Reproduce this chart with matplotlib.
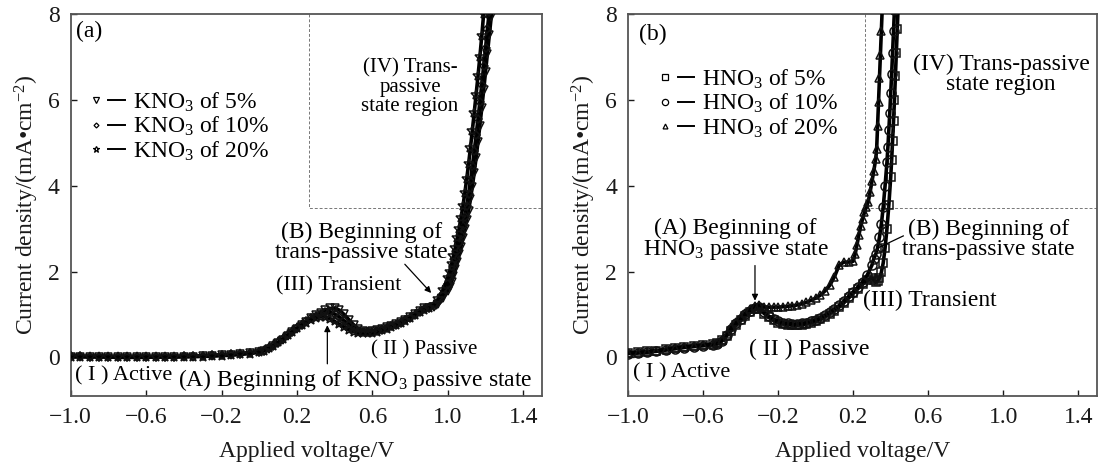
import matplotlib
matplotlib.use('Agg')
import matplotlib.pyplot as plt
from matplotlib.lines import Line2D
from matplotlib.legend_handler import HandlerTuple

plt.rcParams['font.family'] = 'Liberation Serif'
plt.rcParams['mathtext.fontset'] = 'custom'
plt.rcParams['mathtext.rm'] = 'Liberation Serif'
plt.rcParams['mathtext.it'] = 'Liberation Serif:italic'
plt.rcParams['font.size'] = 17

# ---- (a) KNO3 polarisation curves ----
va_base = [-1.00, -0.95, -0.90, -0.85, -0.80, -0.75, -0.70, -0.65, -0.60, -0.55,
           -0.50, -0.45, -0.40, -0.35, -0.30, -0.25, -0.20, -0.15, -0.10, -0.05,
           0.000, 0.025, 0.050, 0.075, 0.100, 0.125, 0.150, 0.175, 0.200, 0.225,
           0.250, 0.275, 0.300, 0.325, 0.350, 0.375, 0.400, 0.425, 0.450, 0.475,
           0.500, 0.525, 0.550, 0.575, 0.600, 0.625, 0.650, 0.675, 0.700, 0.725,
           0.750, 0.775, 0.800, 0.825, 0.850, 0.875, 0.900, 0.925, 0.950, 0.975]

ia_5_base = [0.02, 0.02, 0.02, 0.02, 0.01, 0.01, 0.01, 0.01, 0.01, 0.01,
             0.01, 0.02, 0.02, 0.02, 0.03, 0.04, 0.05, 0.06, 0.08, 0.10,
             0.13, 0.16, 0.20, 0.26, 0.33, 0.41, 0.50, 0.58, 0.67, 0.75,
             0.83, 0.91, 0.98, 1.04, 1.10, 1.14, 1.15, 1.10, 1.00, 0.88,
             0.76, 0.67, 0.62, 0.60, 0.61, 0.63, 0.66, 0.70, 0.74, 0.78,
             0.83, 0.88, 0.94, 1.01, 1.08, 1.14, 1.16, 1.18, 1.25, 1.38]
ia_10_base = [0.03, 0.03, 0.02, 0.02, 0.02, 0.02, 0.02, 0.02, 0.02, 0.02,
              0.02, 0.02, 0.03, 0.03, 0.04, 0.05, 0.06, 0.07, 0.09, 0.11,
              0.13, 0.16, 0.21, 0.27, 0.34, 0.42, 0.51, 0.60, 0.68, 0.76,
              0.84, 0.91, 0.97, 1.02, 1.05, 1.05, 1.01, 0.94, 0.85, 0.76,
              0.68, 0.62, 0.59, 0.58, 0.59, 0.61, 0.64, 0.68, 0.72, 0.76,
              0.81, 0.86, 0.92, 0.99, 1.06, 1.12, 1.15, 1.20, 1.30, 1.48]
ia_20_base = [0.01, 0.01, 0.01, 0.01, 0.01, 0.00, 0.00, 0.00, 0.00, 0.01,
              0.01, 0.01, 0.01, 0.02, 0.02, 0.03, 0.04, 0.05, 0.07, 0.09,
              0.12, 0.16, 0.21, 0.27, 0.35, 0.43, 0.52, 0.60, 0.68, 0.75,
              0.81, 0.87, 0.92, 0.95, 0.94, 0.90, 0.84, 0.77, 0.70, 0.64,
              0.60, 0.57, 0.56, 0.56, 0.57, 0.60, 0.63, 0.67, 0.71, 0.75,
              0.80, 0.85, 0.91, 0.98, 1.05, 1.10, 1.14, 1.22, 1.36, 1.58]

# trans-passive branch of each concentration
va_5_tail = [1.00, 1.01, 1.02, 1.03, 1.04, 1.05, 1.06, 1.07, 1.08, 1.09, 1.10, 1.11, 1.12,
             1.13, 1.14, 1.15, 1.16, 1.17, 1.18, 1.19, 1.20, 1.21, 1.22, 1.23, 1.24]
ia_5_tail = [1.55, 1.65, 1.76, 1.90, 2.05, 2.22, 2.40, 2.58, 2.78, 2.98, 3.20, 3.42, 3.68,
             3.98, 4.30, 4.65, 5.02, 5.40, 5.80, 6.22, 6.65, 7.08, 7.50, 7.92, 8.30]
va_10_tail = [1.00, 1.01, 1.02, 1.03, 1.04, 1.05, 1.06, 1.07, 1.08, 1.09, 1.10, 1.11,
              1.12, 1.13, 1.14, 1.15, 1.16, 1.17, 1.18, 1.19, 1.20, 1.21, 1.22]
ia_10_tail = [1.72, 1.85, 1.98, 2.14, 2.30, 2.48, 2.66, 2.86, 3.06, 3.28, 3.52, 3.80,
              4.10, 4.45, 4.80, 5.17, 5.55, 5.95, 6.35, 6.78, 7.20, 7.65, 8.05]
va_20_tail = [1.00, 1.01, 1.02, 1.03, 1.04, 1.05, 1.06, 1.07, 1.08, 1.09,
              1.10, 1.11, 1.12, 1.13, 1.14, 1.15, 1.16, 1.17, 1.18, 1.19]
ia_20_tail = [1.85, 2.00, 2.17, 2.36, 2.56, 2.78, 3.00, 3.25, 3.52, 3.82,
              4.15, 4.50, 4.88, 5.28, 5.70, 6.12, 6.55, 7.00, 7.48, 8.00]

# ---- (b) HNO3 polarisation curves ----
vb_base = [-1.00, -0.95, -0.90, -0.85, -0.80, -0.75, -0.70, -0.65, -0.60, -0.55,
           -0.525, -0.500, -0.475, -0.450, -0.425, -0.400, -0.375, -0.350, -0.325, -0.300,
           -0.275, -0.250, -0.225, -0.200, -0.175, -0.150, -0.125, -0.100, -0.075, -0.050,
           -0.025, 0.000, 0.025, 0.050, 0.075, 0.100, 0.125, 0.150, 0.175, 0.200]

ib_5_base = [0.11, 0.12, 0.14, 0.16, 0.19, 0.22, 0.25, 0.27, 0.29, 0.31,
             0.34, 0.40, 0.50, 0.62, 0.75, 0.86, 0.96, 1.05, 1.12, 1.13,
             1.02, 0.93, 0.86, 0.81, 0.78, 0.76, 0.75, 0.75, 0.76, 0.78,
             0.81, 0.84, 0.89, 0.95, 1.02, 1.09, 1.17, 1.27, 1.38, 1.49]
ib_10_base = [0.09, 0.10, 0.12, 0.14, 0.17, 0.20, 0.23, 0.25, 0.27, 0.29,
              0.32, 0.38, 0.52, 0.66, 0.79, 0.90, 1.00, 1.09, 1.16, 1.17,
              1.05, 0.96, 0.89, 0.84, 0.81, 0.79, 0.78, 0.78, 0.79, 0.81,
              0.84, 0.87, 0.92, 0.98, 1.05, 1.12, 1.21, 1.31, 1.42, 1.53]
ib_20_base = [0.10, 0.11, 0.13, 0.15, 0.18, 0.21, 0.24, 0.26, 0.28, 0.30,
              0.33, 0.40, 0.55, 0.70, 0.82, 0.93, 1.03, 1.12, 1.20, 1.22,
              1.18, 1.17, 1.17, 1.17, 1.18, 1.19, 1.20, 1.22, 1.25, 1.28,
              1.33, 1.38, 1.45, 1.55, 1.68, 1.88, 2.15, 2.22, 2.22, 2.24]

vb_5_tail = [0.225, 0.25, 0.275, 0.30, 0.31, 0.32, 0.33, 0.34, 0.35, 0.36, 0.37,
             0.38, 0.39, 0.40, 0.405, 0.41, 0.415, 0.42, 0.425, 0.43, 0.435, 0.44]
ib_5_tail = [1.60, 1.70, 1.80, 1.85, 1.80, 1.75, 1.78, 1.85, 1.98, 2.20, 2.55,
             3.00, 3.55, 4.20, 4.60, 5.05, 5.50, 6.00, 6.55, 7.10, 7.65, 8.20]
vb_10_tail = [0.225, 0.25, 0.275, 0.30, 0.31, 0.32, 0.33, 0.34, 0.35, 0.36,
              0.37, 0.38, 0.385, 0.39, 0.395, 0.40, 0.405, 0.41, 0.415, 0.42]
ib_10_tail = [1.64, 1.76, 1.92, 2.15, 2.30, 2.40, 2.55, 2.80, 3.10, 3.50,
              4.00, 4.55, 4.90, 5.30, 5.70, 6.15, 6.60, 7.10, 7.60, 8.10]
vb_20_tail = [0.21, 0.22, 0.23, 0.24, 0.25, 0.26, 0.27, 0.28, 0.29, 0.30,
              0.31, 0.32, 0.325, 0.33, 0.335, 0.34, 0.345, 0.35, 0.355]
ib_20_tail = [2.40, 2.62, 2.85, 3.05, 3.22, 3.38, 3.50, 3.62, 3.85, 4.10,
              4.35, 4.62, 4.85, 5.40, 5.95, 6.50, 7.05, 7.60, 8.15]

xticks = [-1.0, -0.6, -0.2, 0.2, 0.6, 1.0, 1.4]
yticks = [0, 2, 4, 6, 8]

fig = plt.figure(figsize=(11.02, 4.63), dpi=100)
ax_a = fig.add_axes([0.0642, 0.1447, 0.4277, 0.825])
ax_b = fig.add_axes([0.5701, 0.1447, 0.4253, 0.825])


def style_axes(ax):
    ax.set_xlim(-1.0, 1.5)
    ax.set_ylim(-0.9, 8)
    ax.set_xticks(xticks)
    ax.set_xticklabels([f'{t:.1f}'.replace('-', '\u2212') for t in xticks])
    ax.set_yticks(yticks)
    ax.tick_params(direction='in', length=4, width=1, top=False, right=False,
                   labelsize=17, pad=8, colors='#1a1a1a')
    for sp in ax.spines.values():
        sp.set_linewidth(1.3)
        sp.set_color('#555555')
    ax.set_xlabel('Applied voltage/V', fontsize=17, labelpad=9, color='#1a1a1a')
    ax.set_ylabel('Current density/(mA\u2022cm$^{-2}$)', fontsize=17, labelpad=5,
                  color='#1a1a1a')
    # dashed frame around the trans-passive region
    ax.plot([0.265, 0.265, 1.5], [8, 3.47, 3.47], ls=(0, (3, 2)), lw=0.7,
            color='#777777', zorder=1)


style_axes(ax_a)
style_axes(ax_b)

series_a = [
    (va_base + va_5_tail, ia_5_base + ia_5_tail, 'v', 6, 'KNO$_3$ of 5%'),
    (va_base + va_10_tail, ia_10_base + ia_10_tail, 'D', 4.5, 'KNO$_3$ of 10%'),
    (va_base + va_20_tail, ia_20_base + ia_20_tail, '*', 7, 'KNO$_3$ of 20%'),
]
series_b = [
    (vb_base + vb_5_tail, ib_5_base + ib_5_tail, 's', 6, 'HNO$_3$ of 5%'),
    (vb_base + vb_10_tail, ib_10_base + ib_10_tail, 'o', 6.5, 'HNO$_3$ of 10%'),
    (vb_base + vb_20_tail, ib_20_base + ib_20_tail, '^', 5.5, 'HNO$_3$ of 20%'),
]


def draw_series(ax, series, anchor):
    handles, labels = [], []
    for v, i, m, ms, lab in series:
        ax.plot(v, i, color='black', lw=2.6, marker=m, ms=ms, mfc='none',
                mec='#111111', mew=1.1, zorder=3)
        handles.append((Line2D([], [], ls='none', marker=m, ms=ms - 2, mfc='none',
                               mec='black', mew=0.9),
                        Line2D([], [], color='black', lw=1.4)))
        labels.append(lab)
    ax.legend(handles, labels, loc='upper left', bbox_to_anchor=anchor,
              frameon=False, fontsize=17, labelspacing=0.05, handlelength=1.6,
              handletextpad=0.35, borderpad=0, borderaxespad=0,
              handler_map={tuple: HandlerTuple(ndivide=None, pad=0.2)})


draw_series(ax_a, series_a, (0.035, 0.80))
draw_series(ax_b, series_b, (0.06, 0.86))

arrow = dict(arrowstyle='-|>', lw=0.9, color='black', mutation_scale=9,
             shrinkA=0, shrinkB=0)

# annotations, panel (a)
ax_a.text(-0.97, 7.6, '(a)', ha='left', va='center', fontsize=17)
ax_a.text(0.80, 6.3, '(IV) Trans-\npassive\nstate region', ha='center', va='center',
          fontsize=15, linespacing=1.0)
ax_a.text(0.54, 2.68, '(B) Beginning of\ntrans-passive state', ha='center',
          va='center', fontsize=17, linespacing=0.95)
ax_a.annotate('', xy=(0.912, 1.50), xytext=(0.772, 2.17), arrowprops=arrow)
ax_a.text(0.42, 1.66, '(III) Transient', ha='center', va='center', fontsize=16)
ax_a.text(0.875, 0.18, '( II ) Passive', ha='center', va='center', fontsize=15)
ax_a.text(-0.975, -0.44, '( I ) Active', ha='left', va='center', fontsize=16)
ax_a.text(-0.432, -0.52, '(A) Beginning of KNO$_3$ passive state', ha='left',
          va='center', fontsize=17)
ax_a.annotate('', xy=(0.361, 0.75), xytext=(0.361, -0.15), arrowprops=arrow)

# annotations, panel (b)
ax_b.text(-0.94, 7.53, '(b)', ha='left', va='center', fontsize=17)
ax_b.text(0.988, 6.6, '(IV) Trans-passive\nstate region', ha='center', va='center',
          fontsize=17, linespacing=0.95)
ax_b.text(-0.427, 2.74, '(A) Beginning of\nHNO$_3$ passive state', ha='center',
          va='center', fontsize=17, linespacing=0.95)
ax_b.annotate('', xy=(-0.324, 1.32), xytext=(-0.324, 2.14), arrowprops=arrow)
ax_b.text(0.923, 2.74, '(B) Beginning of\ntrans-passive state', ha='center',
          va='center', fontsize=17, linespacing=0.95)
ax_b.plot([0.467, 0.337], [2.83, 2.56], color='black', lw=0.9, zorder=4)
ax_b.text(0.607, 1.32, '(III) Transient', ha='center', va='center', fontsize=17)
ax_b.text(-0.036, 0.19, '( II ) Passive', ha='center', va='center', fontsize=17)
ax_b.text(-0.976, -0.35, '( I ) Active', ha='left', va='center', fontsize=16)

fig.savefig('out.png', dpi=100)
